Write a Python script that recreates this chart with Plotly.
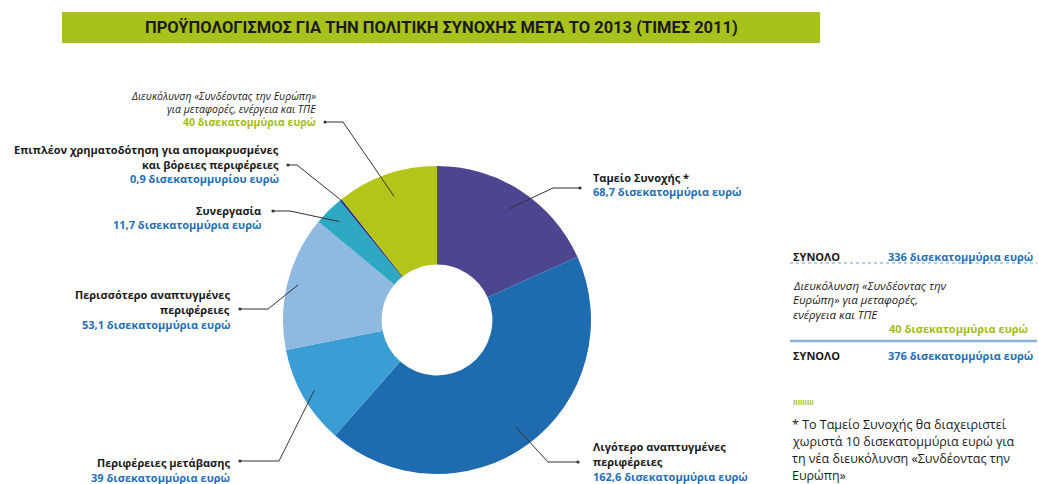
import math
import plotly.graph_objects as go

W, H = 1039, 484

# ---------------- data ----------------
categories = [
    "Ταμείο Συνοχής *",
    "Λιγότερο αναπτυγμένες περιφέρειες",
    "Περιφέρειες μετάβασης",
    "Περισσότερο αναπτυγμένες περιφέρειες",
    "Συνεργασία",
    "Επιπλέον χρηματοδότηση για απομακρυσμένες και βόρειες περιφέρειες",
    "Διευκόλυνση «Συνδέοντας την Ευρώπη» για μεταφορές, ενέργεια και ΤΠΕ",
]
values = [68.7, 162.6, 39, 53.1, 11.7, 0.9, 40]
value_labels = [
    "68,7 δισεκατομμύρια ευρώ",
    "162,6 δισεκατομμύρια ευρώ",
    "39 δισεκατομμύρια ευρώ",
    "53,1 δισεκατομμύρια ευρώ",
    "11,7 δισεκατομμύρια ευρώ",
    "0,9 δισεκατομμυρίου ευρώ",
    "40 δισεκατομμύρια ευρώ",
]
name_lines = [
    ["Ταμείο Συνοχής *"],
    ["Λιγότερο αναπτυγμένες", "περιφέρειες"],
    ["Περιφέρειες μετάβασης"],
    ["Περισσότερο αναπτυγμένες", "περιφέρειες"],
    ["Συνεργασία"],
    ["Επιπλέον χρηματοδότηση για απομακρυσμένες", "και βόρειες περιφέρειες"],
    ["Διευκόλυνση «Συνδέοντας την Ευρώπη»", "για μεταφορές, ενέργεια και ΤΠΕ"],
]
title_text = "ΠΡΟΫΠΟΛΟΓΙΣΜΟΣ ΓΙΑ ΤΗΝ ΠΟΛΙΤΙΚΗ ΣΥΝΟΧΗΣ ΜΕΤΑ ΤΟ 2013 (ΤΙΜΕΣ 2011)"
total_label = "ΣΥΝΟΛΟ"
total_1 = "336 δισεκατομμύρια ευρώ"
total_2 = "376 δισεκατομμύρια ευρώ"
box_italic = ["Διευκόλυνση «Συνδέοντας την", "Ευρώπη» για μεταφορές,", "ενέργεια και ΤΠΕ"]
box_cef = "40 δισεκατομμύρια ευρώ"
footnote = [
    "* Το Ταμείο Συνοχής θα διαχειριστεί",
    "χωριστά 10 δισεκατομμύρια ευρώ για",
    "τη νέα διευκόλυνση «Συνδέοντας την",
    "Ευρώπη»",
]

# ---------------- style ----------------
colors = ["#4b468f", "#1f6bb0", "#3a9dd3", "#8fb9e0", "#2fa8c4", "#2a2f80", "#b3c519"]
DARK = "#1a1a1a"
BLUE = "#1f6fb8"
GREEN = "#a3bd1a"
LINE = "#333333"
FONT = "Open Sans"

CX, CY, R = 437, 320, 154  # pie centre / radius in px


def px(x):
    return x / W


def py(y):
    return 1 - y / H


fig = go.Figure()
fig.add_trace(go.Pie(
    labels=categories, values=values, sort=False, direction="clockwise",
    rotation=0, hole=0.36, textinfo="none", showlegend=False,
    marker=dict(colors=colors, line=dict(width=0)),
    domain=dict(x=[px(CX - R), px(CX + R)], y=[py(CY + R), py(CY - R)]),
))

shapes = []
annotations = []

# title bar
shapes.append(dict(type="rect", xref="paper", yref="paper",
                   x0=px(62), x1=px(820), y0=py(43), y1=py(12),
                   fillcolor="#a9c21b", line=dict(width=0), layer="below"))
annotations.append(dict(text="<b>" + title_text + "</b>", x=px(441), y=py(27.5),
                        xref="paper", yref="paper", showarrow=False,
                        xanchor="center", yanchor="middle",
                        font=dict(family="Roboto", size=16.5, color=DARK)))

# label layout: (side, text x, line ys, dot (x,y), elbow x, radial fraction, font size, italic names)
layout_info = [
    ("L", 591, [177, 191], (580, 188), 553, 0.86, 11, False),
    ("L", 591, [446, 461, 476], (578, 462), 548, 0.86, 11, False),
    ("R", 232, [462, 477], (240, 461), 279, 0.92, 11, False),
    ("R", 232, [294, 309, 324], (240, 309), 268, 0.93, 11, False),
    ("R", 263, [211, 225], (273, 211), 290, 0.9, 11, False),
    ("R", 281, [150, 165, 179], (288, 165), 297, 1.0, 11, False),
    ("R", 318, [96, 109, 122], (325, 122), 343, 0.85, 10.5, True),
]

total = sum(values)
cum = 0.0
for i, v in enumerate(values):
    mid = (cum + v / 2) / total * 2 * math.pi
    cum += v
    side, tx, ys, dot, ex, f, fs, ital = layout_info[i]
    lines = list(name_lines[i])
    for j, ln in enumerate(lines):
        txt = "<i>" + ln + "</i>" if ital else "<b>" + ln + "</b>"
        annotations.append(dict(text=txt, x=px(tx), y=py(ys[j]), xref="paper", yref="paper",
                                showarrow=False, xanchor="left" if side == "L" else "right",
                                yanchor="middle", font=dict(family=FONT, size=fs, color=DARK)))
    vcol = GREEN if i == 6 else BLUE
    annotations.append(dict(text="<b>" + value_labels[i] + "</b>", x=px(tx), y=py(ys[len(lines)]),
                            xref="paper", yref="paper", showarrow=False,
                            xanchor="left" if side == "L" else "right", yanchor="middle",
                            font=dict(family=FONT, size=fs, color=vcol)))
    # leader line
    end_x = CX + f * R * math.sin(mid)
    end_y = CY - f * R * math.cos(mid)
    path = "M {} {} L {} {} L {} {}".format(px(dot[0]), py(dot[1]), px(ex), py(dot[1]),
                                          px(end_x), py(end_y))
    shapes.append(dict(type="path", xref="paper", yref="paper", path=path,
                       line=dict(color=LINE, width=1)))
    shapes.append(dict(type="circle", xref="paper", yref="paper",
                       x0=px(dot[0] - 1.6), x1=px(dot[0] + 1.6),
                       y0=py(dot[1] + 1.6), y1=py(dot[1] - 1.6),
                       fillcolor=LINE, line=dict(width=0)))


# right summary box
def add_text(t, x, y, anchor, size, color, fam=FONT):
    annotations.append(dict(text=t, x=px(x), y=py(y), xref="paper", yref="paper",
                            showarrow=False, xanchor=anchor, yanchor="middle",
                            font=dict(family=fam, size=size, color=color)))


add_text("<b>" + total_label + "</b>", 791, 256, "left", 11, DARK)
add_text("<b>" + total_1 + "</b>", 1035, 256, "right", 11, BLUE)
shapes.append(dict(type="line", xref="paper", yref="paper", x0=px(790), x1=px(1037),
                   y0=py(263), y1=py(263), line=dict(color="#6f9bd0", width=1, dash="dot")))
for k, t in enumerate(box_italic):
    add_text("<i>" + t + "</i>", 791, [285, 299, 314][k], "left", 11.5, DARK)
add_text("<b>" + box_cef + "</b>", 1030, 328, "right", 11, GREEN)
shapes.append(dict(type="line", xref="paper", yref="paper", x0=px(790), x1=px(1037),
                   y0=py(341), y1=py(341), line=dict(color="#8db2dc", width=2.5)))
add_text("<b>" + total_label + "</b>", 791, 355, "left", 11, DARK)
add_text("<b>" + total_2 + "</b>", 1035, 355, "right", 11, BLUE)
add_text("<b>IIIIIIIII</b>", 791, 402, "left", 7, GREEN)
for k, t in enumerate(footnote):
    add_text(t, 790, [424, 441, 458, 475][k], "left", 12.5, DARK)

fig.update_layout(
    width=W, height=H, margin=dict(l=0, r=0, t=0, b=0),
    paper_bgcolor="white", plot_bgcolor="white",
    shapes=shapes, annotations=annotations,
)
fig.write_html("out.html", config={"displayModeBar": False},
               post_script="document.body.style.margin='0px';")
